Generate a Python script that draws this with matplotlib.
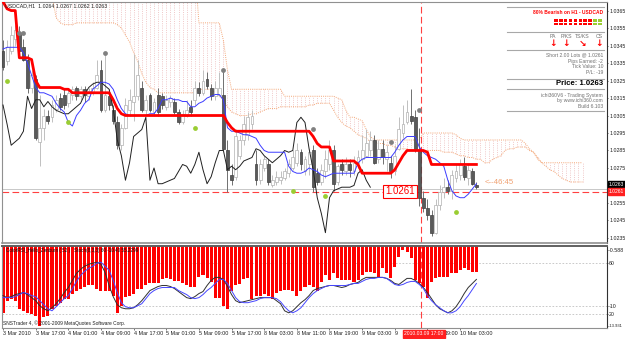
import numpy as np
import matplotlib
matplotlib.use("Agg")
import matplotlib.pyplot as plt
from matplotlib.patches import Rectangle
from matplotlib.transforms import blended_transform_factory

plt.rcParams["font.family"] = ["Liberation Sans", "DejaVu Sans"]

# --- DATA (USDCAD H1) ---
opens = [1.0342, 1.0336, 1.0342, 1.0349, 1.0352, 1.0344, 1.0337, 1.0321, 1.0326, 1.0290,
         1.0298, 1.0305, 1.0304, 1.0309, 1.0315, 1.0317, 1.0312, 1.0317, 1.0321, 1.0316,
         1.0320, 1.0316, 1.0318, 1.0321, 1.0331, 1.0308, 1.0316, 1.0308, 1.0301, 1.0288,
         1.0298, 1.0308, 1.0313, 1.0316, 1.0321, 1.0308, 1.0317, 1.0307, 1.0317, 1.0316,
         1.0310, 1.0313, 1.0313, 1.0307, 1.0301, 1.0305, 1.0310, 1.0314, 1.0321, 1.0318,
         1.0326, 1.0321, 1.0316, 1.0317, 1.0317, 1.0285, 1.0271, 1.0270, 1.0282, 1.0291,
         1.0294, 1.0300, 1.0277, 1.0268, 1.0275, 1.0277, 1.0265, 1.0267, 1.0268, 1.0269,
         1.0272, 1.0275, 1.0278, 1.0284, 1.0273, 1.0277, 1.0285, 1.0272, 1.0267, 1.0273,
         1.0277, 1.0285, 1.0267, 1.0277, 1.0273, 1.0277, 1.0273, 1.0278, 1.0280, 1.0282,
         1.0285, 1.0291, 1.0280, 1.0286, 1.0280, 1.0278, 1.0273, 1.0286, 1.0295, 1.0301,
         1.0305, 1.0304, 1.0285, 1.0258, 1.0252, 1.0248, 1.0238, 1.0254, 1.0261, 1.0264,
         1.0262, 1.0269, 1.0271, 1.0276, 1.0269, 1.0273, 1.0265]
closes = [1.0333, 1.0344, 1.0351, 1.0354, 1.0342, 1.0337, 1.0321, 1.0328, 1.0292, 1.0298,
          1.0305, 1.0302, 1.0311, 1.0314, 1.0310, 1.0311, 1.0318, 1.0320, 1.0316, 1.0320,
          1.0317, 1.0319, 1.0321, 1.0328, 1.0308, 1.0317, 1.0311, 1.0302, 1.0288, 1.0298,
          1.0311, 1.0314, 1.0316, 1.0328, 1.0308, 1.0314, 1.0308, 1.0313, 1.0307, 1.0311,
          1.0314, 1.0315, 1.0307, 1.0301, 1.0306, 1.0308, 1.0307, 1.0321, 1.0318, 1.0325,
          1.0322, 1.0316, 1.0321, 1.0321, 1.0286, 1.0274, 1.0268, 1.0293, 1.0291, 1.0300,
          1.0304, 1.0305, 1.0268, 1.0277, 1.0280, 1.0267, 1.0268, 1.0270, 1.0270, 1.0273,
          1.0277, 1.0281, 1.0285, 1.0277, 1.0280, 1.0284, 1.0264, 1.0267, 1.0274, 1.0280,
          1.0285, 1.0266, 1.0276, 1.0274, 1.0277, 1.0274, 1.0278, 1.0281, 1.0285, 1.0289,
          1.0291, 1.0278, 1.0286, 1.0281, 1.0284, 1.0273, 1.0282, 1.0297, 1.0300, 1.0307,
          1.0302, 1.0285, 1.0258, 1.0252, 1.0248, 1.0238, 1.0254, 1.0261, 1.0264, 1.0262,
          1.0271, 1.0273, 1.0277, 1.0270, 1.0274, 1.0266, 1.0264]
highs = [1.0348, 1.0348, 1.0356, 1.0357, 1.0356, 1.0349, 1.0340, 1.0331, 1.0328, 1.0317,
         1.0309, 1.0308, 1.0314, 1.0317, 1.0318, 1.0320, 1.0321, 1.0322, 1.0322, 1.0322,
         1.0322, 1.0321, 1.0324, 1.0337, 1.0337, 1.0340, 1.0320, 1.0311, 1.0305, 1.0300,
         1.0315, 1.0320, 1.0340, 1.0337, 1.0325, 1.0317, 1.0318, 1.0315, 1.0321, 1.0318,
         1.0317, 1.0317, 1.0315, 1.0309, 1.0308, 1.0314, 1.0314, 1.0325, 1.0324, 1.0331,
         1.0330, 1.0323, 1.0325, 1.0330, 1.0331, 1.0291, 1.0277, 1.0297, 1.0294, 1.0305,
         1.0307, 1.0308, 1.0285, 1.0280, 1.0282, 1.0280, 1.0271, 1.0273, 1.0273, 1.0275,
         1.0280, 1.0285, 1.0289, 1.0286, 1.0282, 1.0286, 1.0288, 1.0275, 1.0277, 1.0285,
         1.0291, 1.0288, 1.0277, 1.0280, 1.0281, 1.0280, 1.0282, 1.0285, 1.0294, 1.0297,
         1.0296, 1.0294, 1.0291, 1.0291, 1.0288, 1.0282, 1.0288, 1.0304, 1.0311, 1.0314,
         1.0320, 1.0308, 1.0298, 1.0262, 1.0257, 1.0251, 1.0257, 1.0265, 1.0269, 1.0268,
         1.0274, 1.0277, 1.0280, 1.0281, 1.0277, 1.0275, 1.0267]
lows = [1.0331, 1.0334, 1.0340, 1.0345, 1.0341, 1.0336, 1.0318, 1.0318, 1.0291, 1.0276,
        1.0291, 1.0300, 1.0301, 1.0307, 1.0308, 1.0309, 1.0310, 1.0314, 1.0314, 1.0314,
        1.0313, 1.0314, 1.0317, 1.0320, 1.0307, 1.0307, 1.0308, 1.0300, 1.0286, 1.0285,
        1.0297, 1.0305, 1.0302, 1.0314, 1.0307, 1.0305, 1.0307, 1.0305, 1.0305, 1.0309,
        1.0308, 1.0310, 1.0306, 1.0300, 1.0300, 1.0304, 1.0305, 1.0311, 1.0316, 1.0317,
        1.0320, 1.0314, 1.0314, 1.0316, 1.0285, 1.0261, 1.0265, 1.0268, 1.0280, 1.0288,
        1.0291, 1.0297, 1.0265, 1.0266, 1.0273, 1.0265, 1.0264, 1.0265, 1.0266, 1.0268,
        1.0270, 1.0274, 1.0276, 1.0274, 1.0271, 1.0271, 1.0261, 1.0265, 1.0265, 1.0269,
        1.0274, 1.0262, 1.0265, 1.0271, 1.0271, 1.0270, 1.0271, 1.0275, 1.0278, 1.0281,
        1.0282, 1.0277, 1.0278, 1.0277, 1.0273, 1.0269, 1.0271, 1.0285, 1.0292, 1.0300,
        1.0300, 1.0284, 1.0253, 1.0250, 1.0245, 1.0236, 1.0237, 1.0251, 1.0258, 1.0260,
        1.0257, 1.0267, 1.0268, 1.0268, 1.0265, 1.0265, 1.0263]

tenkan = [1.0343, 1.0344, 1.0344, 1.0344, 1.0344, 1.0341, 1.0335, 1.0328, 1.0321, 1.0318,
          1.0318, 1.0317, 1.0316, 1.0312, 1.0309, 1.0307, 1.0301, 1.0299, 1.0305, 1.0308,
          1.0312, 1.0314, 1.0320, 1.0322, 1.0324, 1.0324, 1.0323, 1.0320, 1.0314, 1.0309,
          1.0306, 1.0305, 1.0305, 1.0305, 1.0305, 1.0305, 1.0306, 1.0306, 1.0309, 1.0314,
          1.0314, 1.0315, 1.0314, 1.0314, 1.0313, 1.0313, 1.0310, 1.0310, 1.0312, 1.0313,
          1.0315, 1.0316, 1.0317, 1.0317, 1.0314, 1.0298, 1.0296, 1.0296, 1.0295, 1.0294,
          1.0294, 1.0293, 1.0292, 1.0288, 1.0285, 1.0284, 1.0284, 1.0284, 1.0284, 1.0284,
          1.0276, 1.0273, 1.0272, 1.0272, 1.0273, 1.0275, 1.0274, 1.0273, 1.0271, 1.0270,
          1.0271, 1.0272, 1.0272, 1.0272, 1.0272, 1.0272, 1.0272, 1.0278, 1.0280, 1.0281,
          1.0281, 1.0281, 1.0281, 1.0281, 1.0281, 1.0281, 1.0284, 1.0288, 1.0291, 1.0293,
          1.0293, 1.0293, 1.0287, 1.0284, 1.0282, 1.0281, 1.0280, 1.0278, 1.0276, 1.0268,
          1.0262, 1.0259, 1.0258, 1.0258, 1.0260, 1.0263, 1.0266]
kijun = [1.0370, 1.0366, 1.0365, 1.0365, 1.0338, 1.0338, 1.0338, 1.0337, 1.0325, 1.0321,
         1.0321, 1.0321, 1.0321, 1.0321, 1.0321, 1.0320, 1.0320, 1.0318, 1.0318, 1.0318,
         1.0318, 1.0318, 1.0318, 1.0318, 1.0318, 1.0318, 1.0318, 1.0314, 1.0309, 1.0306,
         1.0305, 1.0305, 1.0305, 1.0305, 1.0305, 1.0305, 1.0305, 1.0305, 1.0305, 1.0305,
         1.0305, 1.0305, 1.0305, 1.0305, 1.0305, 1.0305, 1.0305, 1.0305, 1.0305, 1.0305,
         1.0305, 1.0305, 1.0305, 1.0305, 1.0305, 1.0301, 1.0298, 1.0296, 1.0296, 1.0296,
         1.0296, 1.0296, 1.0296, 1.0296, 1.0296, 1.0296, 1.0296, 1.0296, 1.0296, 1.0296,
         1.0296, 1.0296, 1.0296, 1.0296, 1.0296, 1.0296, 1.0293, 1.0289, 1.0287, 1.0287,
         1.0287, 1.0279, 1.0279, 1.0279, 1.0279, 1.0279, 1.0279, 1.0277, 1.0272, 1.0272,
         1.0272, 1.0272, 1.0272, 1.0272, 1.0272, 1.0272, 1.0274, 1.0278, 1.0282, 1.0285,
         1.0285, 1.0285, 1.0285, 1.0285, 1.0284, 1.0277, 1.0277, 1.0277, 1.0277, 1.0277,
         1.0277, 1.0277, 1.0277, 1.0277, 1.0277, 1.0277, 1.0277]
chikou = [1.0311, 1.0300, 1.0288, 1.0290, 1.0292, 1.0296, 1.0316, 1.0309, 1.0314, 1.0314,
          1.0310, 1.0313, 1.0310, 1.0308, 1.0307, 1.0306, 1.0306, 1.0308, 1.0310, 1.0312,
          1.0317, 1.0321, 1.0323, 1.0324, 1.0324, 1.0322, 1.0320, 1.0309, 1.0291, 1.0282,
          1.0268, 1.0278, 1.0293, 1.0295, 1.0297, 1.0304, 1.0268, 1.0275, 1.0266, 1.0266,
          1.0267, 1.0268, 1.0269, 1.0273, 1.0277, 1.0276, 1.0272, 1.0277, 1.0284, 1.0274,
          1.0266, 1.0270, 1.0278, 1.0285, 1.0285, 1.0274, 1.0276, 1.0274, 1.0276, 1.0279,
          1.0280, 1.0281, 1.0286, 1.0285, 1.0282, 1.0280, 1.0278, 1.0280, 1.0282, 1.0285,
          1.0284, 1.0285, 1.0301, 1.0304, 1.0301, 1.0286, 1.0274, 1.0258, 1.0249, 1.0238,
          1.0258, 1.0262, 1.0263, 1.0264, 1.0264, 1.0264, 1.0265, 1.0272, 1.0274, 1.0268,
          1.0264]
span_upper = [1.0390, 1.0390, 1.0390, 1.0390, 1.0390, 1.0390, 1.0390, 1.0390, 1.0390, 1.0390,
              1.0390, 1.0390, 1.0390, 1.0390, 1.0390, 1.0390, 1.0390, 1.0390, 1.0390, 1.0390,
              1.0390, 1.0390, 1.0390, 1.0390, 1.0390, 1.0390, 1.0390, 1.0390, 1.0390, 1.0390,
              1.0390, 1.0390, 1.0390, 1.0390, 1.0390, 1.0390, 1.0390, 1.0390, 1.0390, 1.0390,
              1.0390, 1.0390, 1.0390, 1.0390, 1.0390, 1.0390, 1.0390, 1.0390, 1.0358, 1.0358,
              1.0358, 1.0358, 1.0358, 1.0358, 1.0348, 1.0331, 1.0320, 1.0320, 1.0320, 1.0320,
              1.0320, 1.0320, 1.0320, 1.0320, 1.0320, 1.0320, 1.0320, 1.0320, 1.0320, 1.0316,
              1.0316, 1.0316, 1.0316, 1.0316, 1.0316, 1.0316, 1.0316, 1.0316, 1.0316, 1.0316,
              1.0316, 1.0316, 1.0315, 1.0314, 1.0308, 1.0304, 1.0304, 1.0303, 1.0302, 1.0297,
              1.0293, 1.0291, 1.0291, 1.0291, 1.0291, 1.0291, 1.0291, 1.0291, 1.0291, 1.0291,
              1.0291, 1.0291, 1.0291, 1.0295, 1.0295, 1.0295, 1.0295, 1.0295, 1.0295, 1.0295,
              1.0295, 1.0294, 1.0292, 1.0291, 1.0291, 1.0291, 1.0291, 1.0291, 1.0291, 1.0291,
              1.0291, 1.0291, 1.0291, 1.0291, 1.0291, 1.0291, 1.0291, 1.0291, 1.0289, 1.0286,
              1.0284, 1.0280, 1.0278, 1.0278, 1.0278, 1.0278, 1.0278, 1.0278, 1.0278, 1.0278,
              1.0278, 1.0278, 1.0278]
span_lower = [1.0385, 1.0385, 1.0385, 1.0385, 1.0385, 1.0385, 1.0385, 1.0385, 1.0385, 1.0385,
              1.0385, 1.0385, 1.0374, 1.0361, 1.0358, 1.0357, 1.0357, 1.0357, 1.0358, 1.0358,
              1.0358, 1.0358, 1.0358, 1.0358, 1.0358, 1.0358, 1.0358, 1.0358, 1.0357, 1.0355,
              1.0351, 1.0347, 1.0341, 1.0336, 1.0329, 1.0324, 1.0321, 1.0320, 1.0318, 1.0318,
              1.0318, 1.0318, 1.0318, 1.0318, 1.0318, 1.0318, 1.0318, 1.0318, 1.0320, 1.0320,
              1.0320, 1.0320, 1.0318, 1.0316, 1.0314, 1.0310, 1.0307, 1.0306, 1.0305, 1.0305,
              1.0305, 1.0306, 1.0306, 1.0307, 1.0308, 1.0309, 1.0309, 1.0309, 1.0310, 1.0310,
              1.0310, 1.0310, 1.0310, 1.0310, 1.0310, 1.0311, 1.0311, 1.0312, 1.0312, 1.0312,
              1.0312, 1.0308, 1.0304, 1.0301, 1.0299, 1.0298, 1.0296, 1.0294, 1.0293, 1.0292,
              1.0290, 1.0290, 1.0289, 1.0289, 1.0288, 1.0288, 1.0287, 1.0286, 1.0286, 1.0286,
              1.0285, 1.0285, 1.0285, 1.0285, 1.0285, 1.0285, 1.0285, 1.0285, 1.0284, 1.0284,
              1.0284, 1.0283, 1.0282, 1.0282, 1.0281, 1.0281, 1.0280, 1.0280, 1.0278, 1.0278,
              1.0280, 1.0281, 1.0282, 1.0285, 1.0286, 1.0286, 1.0287, 1.0287, 1.0287, 1.0285,
              1.0284, 1.0281, 1.0278, 1.0276, 1.0274, 1.0273, 1.0271, 1.0269, 1.0268, 1.0267,
              1.0267, 1.0267, 1.0267]

green_bars = [1, 16, 47, 71, 79, 96, 111]
green_vals = [1.0325, 1.0301, 1.0298, 1.0262, 1.0259, 1.0262, 1.0250]
gray_bars = [4, 5, 25, 54, 76, 95, 102]
gray_vals = [1.0352, 1.0352, 1.0341, 1.0331, 1.0297, 1.0290, 1.0308]

# ColorRSI histogram and Stoch(main, signal)
rsi_hist = [-11.46, -9.48, -9.15, -9.48, -10.80, -11.13, -11.46, -11.62, -11.95, -13.60,
            -12.12, -11.95, -10.80, -10.31, -9.81, -9.15, -9.15, -8.33, -7.84, -7.51,
            -7.18, -7.01, -7.01, -7.51, -7.84, -7.84, -7.84, -8.66, -11.46, -10.31,
            -8.82, -8.66, -8.33, -7.51, -7.51, -7.01, -6.68, -6.68, -6.68, -6.02,
            -5.86, -6.02, -6.35, -6.35, -6.68, -7.01, -7.18, -7.34, -5.69, -5.36,
            -5.86, -6.52, -8.99, -8.99, -10.31, -10.80, -7.84, -7.01, -6.85, -6.02,
            -5.86, -9.15, -8.66, -8.66, -8.33, -8.66, -9.15, -8.17, -7.84, -7.67,
            -7.67, -7.84, -8.66, -7.84, -7.34, -7.01, -7.34, -7.84, -6.52, -5.36,
            -6.19, -5.04, -5.86, -6.19, -6.19, -6.19, -6.52, -6.19, -5.36, -4.87,
            -4.87, -5.04, -5.69, -4.21, -5.04, -5.86, -4.05, -2.40, -1.25, -1.58,
            -2.56, -6.19, -6.68, -7.34, -8.99, -6.52, -5.86, -5.69, -5.69, -5.69,
            -5.04, -5.04, -4.54, -4.21, -4.54, -4.87, -4.87]
stoch_main = [34.4, 32.8, 33.6, 35.2, 36.0, 36.8, 35.2, 32.8, 30.4, 26.4,
              24.0, 22.4, 24.8, 28.0, 32.0, 36.8, 40.8, 46.4, 52.0, 55.2,
              57.6, 59.2, 60.0, 60.8, 59.2, 52.8, 42.4, 33.6, 27.2, 24.8,
              24.0, 24.0, 24.8, 27.2, 30.4, 34.4, 38.4, 40.0, 41.6, 42.4,
              42.4, 41.6, 40.0, 37.6, 35.2, 32.8, 32.0, 33.6, 36.0, 37.6,
              42.4, 46.4, 48.8, 48.8, 47.2, 41.6, 35.2, 30.4, 28.8, 29.6,
              30.4, 31.2, 32.0, 32.8, 32.8, 32.8, 32.8, 30.4, 28.0, 22.4,
              20.8, 22.4, 25.6, 28.8, 31.2, 34.4, 38.4, 40.0, 40.8, 41.6,
              42.4, 42.4, 41.6, 40.8, 41.6, 43.2, 44.0, 44.8, 47.2, 48.8,
              48.8, 48.8, 48.8, 48.8, 48.0, 46.4, 44.0, 43.2, 45.6, 48.0,
              48.0, 46.4, 44.0, 40.8, 36.8, 32.0, 27.2, 24.0, 22.4, 20.8,
              22.4, 25.6, 30.4, 36.0, 40.8, 44.0, 47.2]
stoch_signal = [32.8, 32.8, 32.8, 33.6, 35.2, 36.8, 36.0, 34.4, 33.6, 30.4,
                27.2, 24.0, 22.4, 25.6, 28.8, 32.0, 34.4, 40.0, 45.6, 50.4,
                53.6, 56.0, 57.6, 60.0, 60.8, 57.6, 54.4, 46.4, 36.8, 28.8,
                25.6, 24.8, 24.8, 26.4, 28.0, 32.0, 36.0, 38.4, 40.0, 40.8,
                40.8, 40.8, 40.8, 38.4, 36.8, 35.2, 32.8, 32.0, 32.8, 35.2,
                38.4, 40.8, 44.0, 47.2, 47.2, 44.0, 38.4, 32.8, 29.6, 28.8,
                28.8, 29.6, 30.4, 32.0, 32.8, 32.8, 32.8, 32.0, 29.6, 25.6,
                22.4, 20.8, 22.4, 24.8, 28.8, 32.8, 36.0, 38.4, 40.0, 41.6,
                42.4, 42.4, 42.4, 42.4, 42.4, 43.2, 44.0, 44.0, 45.6, 47.2,
                48.0, 48.0, 48.8, 48.8, 48.0, 45.6, 43.2, 42.4, 43.2, 44.8,
                45.6, 45.6, 43.2, 40.0, 34.4, 30.4, 27.2, 24.8, 22.4, 20.8,
                20.8, 22.4, 25.6, 30.4, 34.4, 39.2, 44.0]

date_bars = [0, 8, 16, 24, 32, 40, 48, 56, 64, 72, 80, 88, 96, 104, 112]
date_labels = ["3 Mar 2010", "3 Mar 17:00", "4 Mar 01:00", "4 Mar 09:00", "4 Mar 17:00",
               "5 Mar 01:00", "5 Mar 09:00", "5 Mar 17:00", "8 Mar 03:00", "8 Mar 11:00",
               "8 Mar 19:00", "9 Mar 03:00", "9", "19:00", "10 Mar 03:00"]
price_ticks = [1.0235, 1.0245, 1.0255, 1.0265, 1.0275, 1.0285, 1.0295, 1.0305,
               1.0315, 1.0325, 1.0335, 1.0345, 1.0355, 1.0365]

BID = 1.0263
ORDER = 1.0261
CURSOR_BAR = 102.45
HIST_TOP, HIST_BOT = -0.588, -13.931

W, H = 625, 339


def P(x, y):
    """pixel -> figure fraction"""
    return x / W, 1 - y / H


fig = plt.figure(figsize=(W / 100, H / 100), dpi=100)
ax = fig.add_axes([2 / W, 1 - 243 / H, 605 / W, 241 / H])
axl = fig.add_axes([2 / W, 1 - 328 / H, 605 / W, 82 / H])
axs = fig.add_axes([2 / W, 1 - 328 / H, 605 / W, 82 / H])

x = np.arange(len(closes))
o, c, h, l = map(np.array, (opens, closes, highs, lows))
up = c >= o

# cloud: dotted vertical hatch + dotted borders
xc = np.arange(len(span_upper))
ax.vlines(xc, span_lower, span_upper, colors="#f0c8c8", lw=0.7,
          linestyles=(0, (1, 1.3)), zorder=1)
ax.plot(xc, span_upper, color="#f4a878", lw=0.7, ls=(0, (1, 1.2)), zorder=2)
ax.plot(xc, span_lower, color="#f4a878", lw=0.7, ls=(0, (1, 1.2)), zorder=2)

# candles
ax.vlines(x, l, h, colors=np.where(up, "#c0c0c0", "#707070"), lw=0.7, zorder=3)
ax.bar(x, np.maximum(np.abs(c - o), 0.00004), bottom=np.minimum(o, c), width=0.7,
       color=np.where(up, "#ffffff", "#5a5a5a"), edgecolor=np.where(up, "#b0b0b0", "#404040"),
       lw=0.5, zorder=4)

ax.axhline(BID, color="#c8c8c8", lw=0.7, zorder=2)
ax.axhline(ORDER, color="#ff4040", lw=0.8, ls=(0, (6, 3)), zorder=2)
ax.axvline(CURSOR_BAR, color="#ff4040", lw=0.8, ls=(0, (6, 3)), zorder=2)

ax.plot(np.arange(len(chikou)), chikou, color="#202020", lw=0.7, zorder=5)
ax.plot(x, tenkan, color="#3c3cff", lw=0.7, zorder=5)
ax.plot(x, kijun, color="#ff0000", lw=2.0, zorder=6)
ax.scatter(green_bars, green_vals, s=12, color="#9acd32", zorder=7, lw=0)
ax.scatter(gray_bars, gray_vals, s=12, color="#808080", zorder=7, lw=0)

ax.set_xlim(-0.25, 148.0)
ax.set_ylim(1.02321, 1.03699)
ax.set_xticks([])
ax.yaxis.tick_right()
ax.set_yticks(price_ticks)
# 1.0265 sits under the bid / order boxes
ax.set_yticklabels(["" if abs(v - 1.0265) < 1e-6 else f"{v:.4f}" for v in price_ticks])
ax.tick_params(axis="y", labelsize=3.8, length=1, width=0.5, pad=0.5, colors="#202020")

# sub window: histogram + stochastic
axl.bar(x, np.array(rsi_hist) - HIST_TOP, bottom=HIST_TOP, width=0.75, color="#ff0000", zorder=2)
for lv in (-3.39, -10.31, -11.62):
    axl.axhline(lv, color="#c0c0c0", lw=0.6, ls=(0, (2, 2)), zorder=1)
axl.axvline(CURSOR_BAR, color="#ff4040", lw=0.8, ls=(0, (6, 3)), zorder=3)
axl.set_xlim(-0.25, 148.0)
axl.set_ylim(HIST_BOT, HIST_TOP)
axl.yaxis.tick_right()
axl.set_yticks([-1.25, -3.39, -10.31, -11.62, -13.6])
axl.set_yticklabels(["-0.588", "60", "-10", "20", "-13.931"])
axl.tick_params(axis="y", labelsize=3.8, length=1, width=0.5, pad=0.5, colors="#202020")
axl.get_yticklabels()[-1].set_fontsize(3.0)
axl.set_xticks(date_bars)
axl.set_xticklabels([])
axl.tick_params(axis="x", length=1.5, width=0.5, colors="#404040")
# date labels; "9 Mar 19:00" is mostly hidden behind the cursor box, only "19:00" shows
tr = blended_transform_factory(axl.transData, fig.transFigure)
for b, lab in zip(date_bars, date_labels):
    xb = b + 4.1 if lab == "19:00" else b
    axl.text(xb, 1 - 333.5 / H, lab, transform=tr, fontsize=3.9, color="#202020",
             ha="left", va="center")

axs.plot(x, stoch_main, color="#303030", lw=0.7)
axs.plot(x, stoch_signal, color="#4646ff", lw=0.7)
axs.set_xlim(-0.25, 148.0)
axs.set_ylim(8.8, 73.6)
axs.axis("off")

for a in (ax, axl):
    for s in a.spines.values():
        s.set_color("#909090")
        s.set_linewidth(0.8)
    a.spines["right"].set_color("#303030")
ax.spines["bottom"].set_linewidth(1.2)
axl.spines["top"].set_linewidth(1.4)
axl.spines["top"].set_color("#606060")

# texts on chart
fig.text(*P(5, 5.5), "USDCAD,H1  1.0264 1.0267 1.0262 1.0263", fontsize=3.8, va="center", color="#202020")
fig.text(*P(6, 250.5), "ColorRSI_Hello_Zenburn ( 52 )   Stoch(8,3,3) 60 -10.40 55.2299", fontsize=3.3,
         va="center", color="#101010", zorder=5)
fig.text(*P(3, 323), "SNSTrader 4, \u00a9 2001-2009 MetaQuotes Software Corp.", fontsize=3.5,
         va="center", color="#202020")
fig.text(*P(400, 191.5), "1.0261", fontsize=7, color="red", ha="center", va="center",
         bbox=dict(boxstyle="square,pad=0.2", fc="white", ec="red", lw=0.8), zorder=10)
fig.text(*P(485, 182), "<--46:45", fontsize=5.6, color="#f0a070", va="center")

# price boxes on the right axis
fig.text(*P(609, 184.5), "1.0263", fontsize=3.6, color="white", va="center",
         bbox=dict(boxstyle="square,pad=0.2", fc="black", ec="black"))
fig.text(*P(609, 191.5), "1.0261", fontsize=3.6, color="white", va="center",
         bbox=dict(boxstyle="square,pad=0.2", fc="#ff2020", ec="#ff2020"))
fig.text(*P(404, 333.5), "2010.03.09 17:00", fontsize=3.6, color="white", va="center",
         bbox=dict(boxstyle="square,pad=0.3", fc="#ff2020", ec="#ff2020"))

# info panel
for yy in (7, 32, 50, 79, 89, 111):
    fig.add_artist(plt.Line2D([507 / W, 604 / W], [1 - yy / H] * 2, color="#a8a8a8", lw=0.8))
fig.text(*P(603, 13), "80% Bearish on H1 - USDCAD", fontsize=3.5, color="red",
         fontweight="bold", ha="right", va="center")
for k in range(10):
    col = "#ff0000" if k < 8 else "#9acd32"
    for yy in (18.8, 22.6):
        fig.add_artist(Rectangle(P(554 + 4.9 * k, yy + 2.8), 3.6 / W, 2.8 / H,
                                 transform=fig.transFigure, color=col, lw=0))
for lab, xx, arr in (("PA", 553, "\u2193"), ("P/KS", 566, "\u2193"),
                     ("TS/KS", 582, "\u2198"), ("CS", 599, "\u2193")):
    fig.text(*P(xx, 36), lab, fontsize=3.7, color="#707070", ha="center", va="center")
    fig.text(*P(xx, 44), arr, fontsize=6.5, color="red", fontweight="bold", ha="center",
             va="center", family=["DejaVu Sans"])
for yy, t in ((55, "Short 2.00 Lots @ 1.0261"), (61, "Pips Earned: -2"),
              (67, "Tick Value: 10"), (73, "P/L: -19"),
              (95, "ichi360V6 - Trading System"), (100.5, "by www.ichi360.com"),
              (106, "Build 6.103")):
    fig.text(*P(603, yy), t, fontsize=3.6, color="#707070", ha="right", va="center")
fig.text(*P(603, 84), "Price: 1.0263", fontsize=5.6, color="black", fontweight="bold",
         ha="right", va="center")

fig.savefig("out.png", dpi=100)
